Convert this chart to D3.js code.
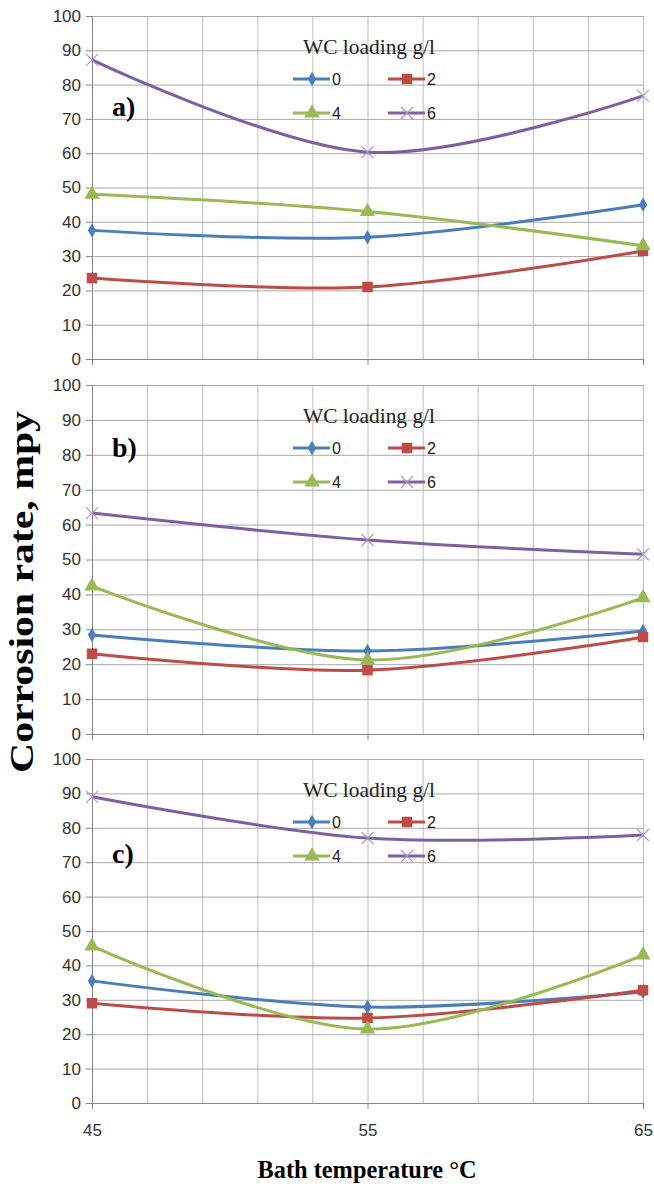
<!DOCTYPE html>
<html>
<head>
<meta charset="utf-8">
<script src="https://cdn.jsdelivr.net/npm/d3@7"></script>
<style>
  body { margin: 0; background: #fff; }
  .tick text { font-family: "Liberation Sans", Arial, sans-serif; font-size: 17px; fill: #333; }
</style>
</head>
<body>
<div id="chart"></div>
<script>
var temps = [45, 55, 65];
var loadings = ["0", "2", "4", "6"];
var panelNames = ["a)", "b)", "c)"];

// corrosion rate (mpy), one row per WC loading
var panelA = [
  [37.5, 35.5, 45],
  [23.6, 21, 31.5],
  [48, 43, 33],
  [87.2, 60.3, 76.7]
];
var panelB = [
  [28.4, 23.8, 29.5],
  [23, 18.3, 27.8],
  [42.4, 21.2, 39],
  [63.3, 55.6, 51.5]
];
var panelC = [
  [35.5, 27.9, 32.3],
  [29, 24.7, 32.8],
  [45.6, 21.5, 43],
  [89, 77, 77.9]
];
var yTicks = [0, 10, 20, 30, 40, 50, 60, 70, 80, 90, 100];
var xTicks = [45, 55, 65];

var svgWidth = 654;
var svgHeight = 1187;

var colors = ["#4a7ebb", "#be4b48", "#98b954", "#7d60a0"];
var shapes = ["diamond", "square", "triangle", "cross"];

var svg = d3.select("#chart")
  .append("svg")
  .attr("width", svgWidth)
  .attr("height", svgHeight);

var left = 92, right = 643;
var panels = [
  { top: 16, bottom: 359, data: panelA },
  { top: 385, bottom: 734, data: panelB },
  { top: 759, bottom: 1103, data: panelC }
];

var xScale = d3.scaleLinear().domain([45, 65]).range([left, right]);

function drawMarker(g, shape, x, y, color) {
  if (shape === "cross") {
    g.append("path")
      .attr("d", `M${x - 6},${y - 6}L${x + 6},${y + 6}M${x - 6},${y + 6}L${x + 6},${y - 6}`)
      .attr("stroke", "#a898c8")
      .attr("stroke-width", 1.2)
      .attr("fill", "none");
    return;
  }
  var sym = { diamond: d3.symbolDiamond, square: d3.symbolSquare, triangle: d3.symbolTriangle }[shape];
  var size = { diamond: 60, square: 110, triangle: 100 }[shape];
  g.append("path")
    .attr("d", d3.symbol().type(sym).size(size)())
    .attr("transform", `translate(${x},${y})`)
    .attr("fill", color);
}

panels.forEach(function (p, pi) {
  var yScale = d3.scaleLinear().domain([0, 100]).range([p.bottom, p.top]);
  var g = svg.append("g");
  var h = p.bottom - p.top;

  // vertical grid every 2 degrees
  g.append("g")
    .attr("transform", `translate(0, ${p.bottom})`)
    .call(d3.axisBottom(xScale).tickValues(d3.range(45, 66, 2)).tickSize(-h).tickFormat(""))
    .call(s => s.select(".domain").remove())
    .call(s => s.selectAll(".tick line").attr("stroke", "#bcbcbc"));

  // horizontal grid + y ticks
  g.append("g")
    .attr("transform", `translate(${left}, 0)`)
    .call(d3.axisLeft(yScale).tickValues(yTicks).tickSize(-(right - left)).tickFormat(""))
    .call(s => s.select(".domain").remove())
    .call(s => s.selectAll(".tick line").attr("stroke", "#a8a8a8"));

  g.append("g")
    .attr("transform", `translate(${left}, 0)`)
    .call(d3.axisLeft(yScale).tickValues(yTicks).tickSize(6).tickPadding(5))
    .call(s => s.select(".domain").attr("stroke", "#868686"))
    .call(s => s.selectAll(".tick line").attr("stroke", "#868686"));

  // x axis line with major ticks
  g.append("g")
    .attr("transform", `translate(0, ${p.bottom})`)
    .call(d3.axisBottom(xScale).tickValues(xTicks).tickSize(6).tickSizeOuter(0).tickFormat(pi === 2 ? d3.format("d") : ""))
    .call(s => s.select(".domain").attr("stroke", "#868686"))
    .call(s => s.selectAll(".tick line").attr("stroke", "#868686"))
    .call(s => s.selectAll(".tick text").attr("dy", "1.4em"));

  var line = d3.line()
    .x((d, i) => xScale(temps[i]))
    .y(d => yScale(d))
    .curve(d3.curveCatmullRom.alpha(0));

  p.data.forEach(function (vals, si) {
    g.append("path")
      .attr("d", line(vals))
      .attr("fill", "none")
      .attr("stroke", colors[si])
      .attr("stroke-width", 3);
  });
  p.data.forEach(function (vals, si) {
    vals.forEach(function (v, i) {
      drawMarker(g, shapes[si], xScale(temps[i]), yScale(v), colors[si]);
    });
  });

  // panel label
  g.append("text")
    .attr("x", 112)
    .attr("y", p.top + [100, 72, 104][pi])
    .style("font-family", "'Liberation Serif', 'Times New Roman', serif")
    .style("font-weight", "bold")
    .style("font-size", "28px")
    .text(panelNames[pi]);

  // legend
  var lg = g.append("g").attr("transform", `translate(0, ${p.top})`);
  lg.append("text")
    .attr("x", 303)
    .attr("y", 38)
    .attr("textLength", 132)
    .attr("lengthAdjust", "spacingAndGlyphs")
    .style("font-family", "'Liberation Serif', 'Times New Roman', serif")
    .style("font-size", "21px")
    .attr("fill", "#222")
    .text("WC loading g/l");
  loadings.forEach(function (l, si) {
    var lx = si % 2 === 0 ? 293 : 388;
    var ly = si < 2 ? 63 : 97;
    lg.append("line")
      .attr("x1", lx).attr("x2", lx + 37)
      .attr("y1", ly).attr("y2", ly)
      .attr("stroke", colors[si])
      .attr("stroke-width", 3);
    drawMarker(lg, shapes[si], lx + 19, ly, colors[si]);
    lg.append("text")
      .attr("x", lx + 39)
      .attr("y", ly)
      .attr("dy", "0.36em")
      .style("font-family", "'Liberation Sans', Arial, sans-serif")
      .style("font-size", "16px")
      .attr("fill", "#222")
      .text(l);
  });
});

svg.append("text")
  .attr("transform", `translate(33, 592) rotate(-90)`)
  .style("text-anchor", "middle")
  .attr("textLength", 362)
  .attr("lengthAdjust", "spacingAndGlyphs")
  .style("font-family", "'Liberation Serif', 'Times New Roman', serif")
  .style("font-weight", "bold")
  .style("font-size", "33px")
  .text("Corrosion rate, mpy");

svg.append("text")
  .attr("x", 367)
  .attr("y", 1178)
  .style("text-anchor", "middle")
  .attr("textLength", 219)
  .attr("lengthAdjust", "spacingAndGlyphs")
  .style("font-family", "'Liberation Serif', 'Times New Roman', serif")
  .style("font-weight", "bold")
  .style("font-size", "26px")
  .text("Bath temperature °C");
</script>
</body>
</html>
